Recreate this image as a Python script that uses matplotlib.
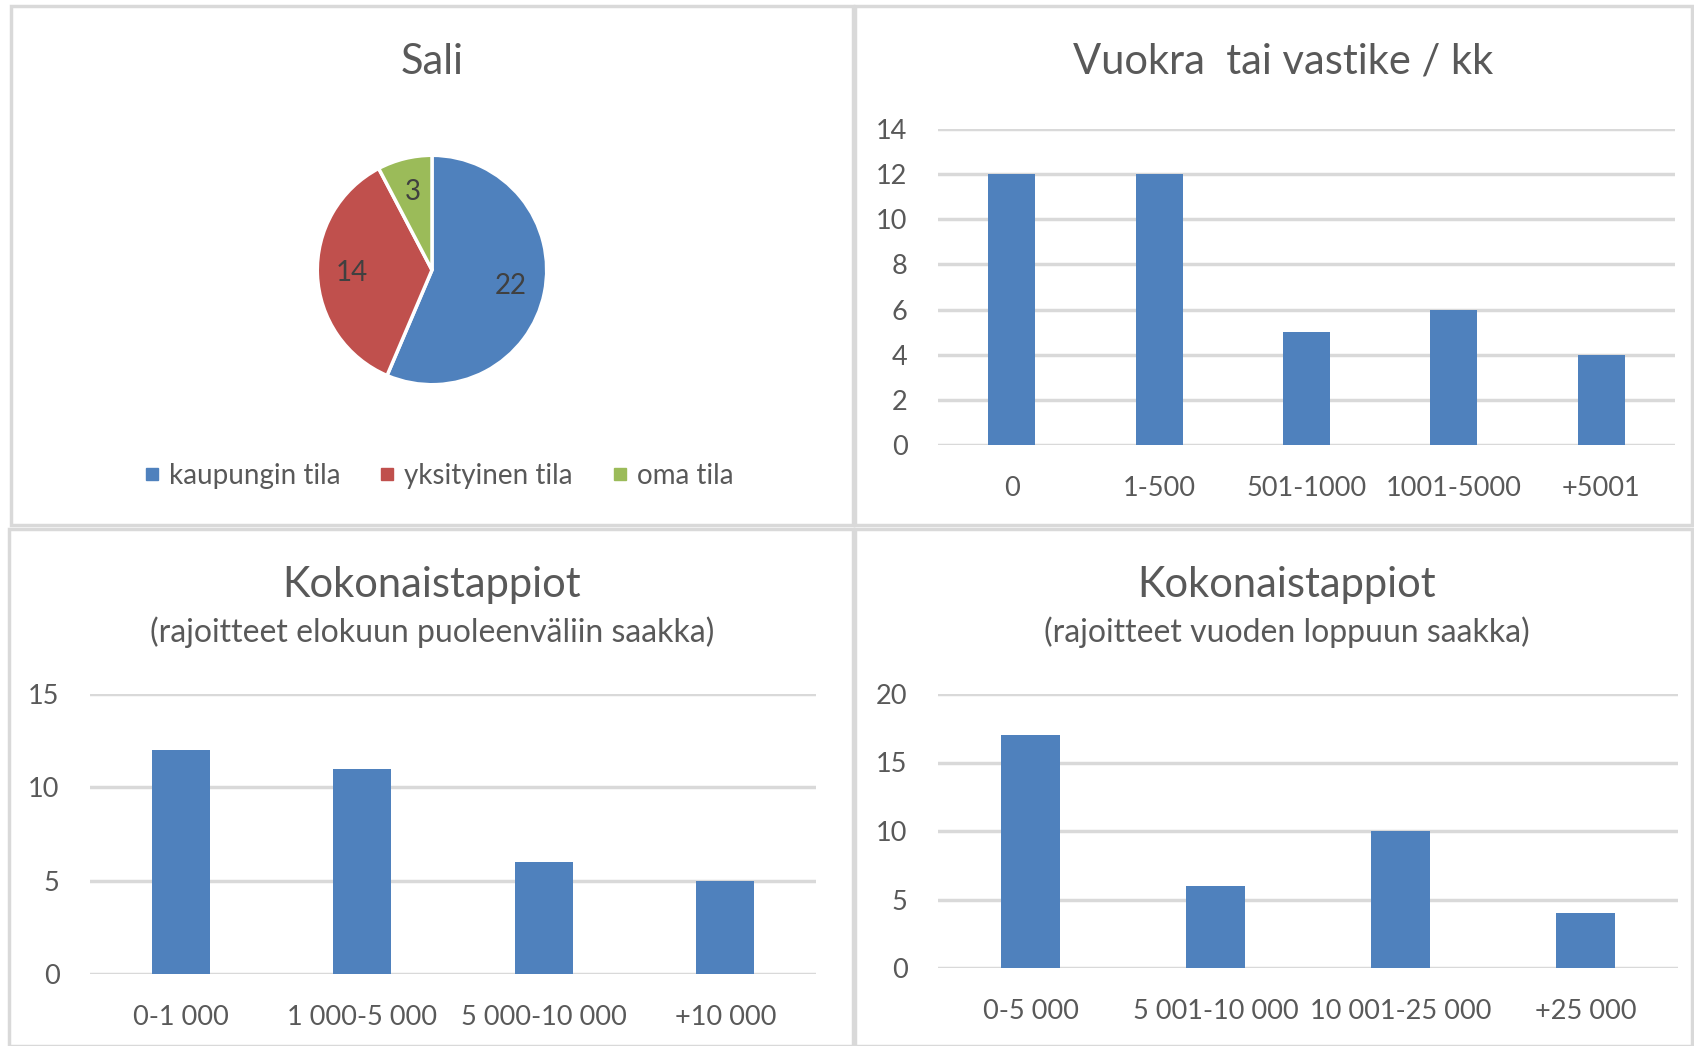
import matplotlib.pyplot as plt
from matplotlib.patches import Rectangle
from matplotlib.lines import Line2D

plt.rcParams['font.family'] = ['Lato', 'DejaVu Sans']

TEXT = '#595959'
GRID = '#D9D9D9'
BLUE = '#4F81BD'

# Sali (pie)
sali_labels = ['kaupungin tila', 'yksityinen tila', 'oma tila']
sali_values = [22, 14, 3]
sali_colors = ['#4F81BD', '#C0504D', '#9BBB59']

# Vuokra tai vastike / kk
rent_cats = ['0', '1-500', '501-1000', '1001-5000', '+5001']
rent_vals = [12, 12, 5, 6, 4]

# Kokonaistappiot, elokuu
loss1_cats = ['0-1 000', '1 000-5 000', '5 000-10 000', '+10 000']
loss1_vals = [12, 11, 6, 5]

# Kokonaistappiot, vuoden loppu
loss2_cats = ['0-5 000', '5 001-10 000', '10 001-25 000', '+25 000']
loss2_vals = [17, 6, 10, 4]

W, H = 1694, 1046
fig = plt.figure(figsize=(W / 100, H / 100), dpi=100)


def px_axes(x0, y0, x1, y1):
    # pixel box (top-left origin) -> figure axes
    return fig.add_axes([x0 / W, 1 - y1 / H, (x1 - x0) / W, (y1 - y0) / H])


# panel frames
for (x0, y0, x1, y1) in [(11, 6, 853, 525), (855, 6, 1692, 525),
                         (9, 529, 853, 1046), (855, 529, 1692, 1046)]:
    fig.patches.append(Rectangle((x0 / W, 1 - y1 / H), (x1 - x0) / W, (y1 - y0) / H,
                                 transform=fig.transFigure, fill=False,
                                 edgecolor=GRID, linewidth=2.5))

# ---- pie ----
ax = px_axes(432 - 117, 270 - 117, 432 + 117, 270 + 117)
wedges, _, autotexts = ax.pie(sali_values, colors=sali_colors, startangle=90, counterclock=False,
                              autopct=lambda p: '%d' % round(p * sum(sali_values) / 100),
                              pctdistance=0.7,
                              wedgeprops=dict(edgecolor='white', linewidth=2.5),
                              textprops=dict(color='#404040', fontsize=20))
ax.set_xlim(-1.02, 1.02)
ax.set_ylim(-1.02, 1.02)
fig.text(432 / W, 1 - 62 / H, 'Sali', ha='center', va='center', fontsize=30, color=TEXT)
handles = [Line2D([], [], marker='s', linestyle='none', markersize=8,
                  markerfacecolor=c, markeredgecolor=c) for c in sali_colors]
fig.legend(handles, sali_labels, loc='center', bbox_to_anchor=(437 / W, 1 - 476 / H),
           ncol=3, frameon=False, fontsize=20, labelcolor=TEXT, handletextpad=0.2,
           columnspacing=1.3, handlelength=0.8)


def bar_panel(box, cats, vals, ymax, step, ylim_top):
    ax = px_axes(*box)
    x = range(len(cats))
    ax.bar(x, vals, width=0.32, color=BLUE, zorder=3)
    ax.set_xlim(-0.5, len(cats) - 0.5)
    ax.set_ylim(0, ylim_top)
    ax.set_yticks(range(0, ymax + 1, step))
    ax.set_xticks(list(x))
    ax.set_xticklabels(cats)
    ax.yaxis.grid(True, color=GRID, linewidth=2.5, zorder=0)
    ax.set_axisbelow(True)
    for s in ax.spines.values():
        s.set_visible(False)
    ax.tick_params(length=0, labelsize=19.5, labelcolor=TEXT)
    ax.tick_params(axis='x', pad=22)
    ax.tick_params(axis='y', pad=22)
    return ax


bar_panel((938, 129, 1675, 445), rent_cats, rent_vals, 14, 2, 14)
fig.text(1283 / W, 1 - 62 / H, 'Vuokra  tai vastike / kk', ha='center', va='center',
         fontsize=30, color=TEXT)

bar_panel((90, 694, 816, 974), loss1_cats, loss1_vals, 15, 5, 15)
fig.text(432 / W, 1 - 585 / H, 'Kokonaistappiot', ha='center', va='center', fontsize=30, color=TEXT)
fig.text(432 / W, 1 - 632 / H, '(rajoitteet elokuun puoleenväliin saakka)', ha='center',
         va='center', fontsize=23, color=TEXT)

bar_panel((938, 694, 1678, 968), loss2_cats, loss2_vals, 20, 5, 20)
fig.text(1287 / W, 1 - 585 / H, 'Kokonaistappiot', ha='center', va='center', fontsize=30, color=TEXT)
fig.text(1287 / W, 1 - 632 / H, '(rajoitteet vuoden loppuun saakka)', ha='center',
         va='center', fontsize=23, color=TEXT)

fig.savefig('out.png', dpi=100)
